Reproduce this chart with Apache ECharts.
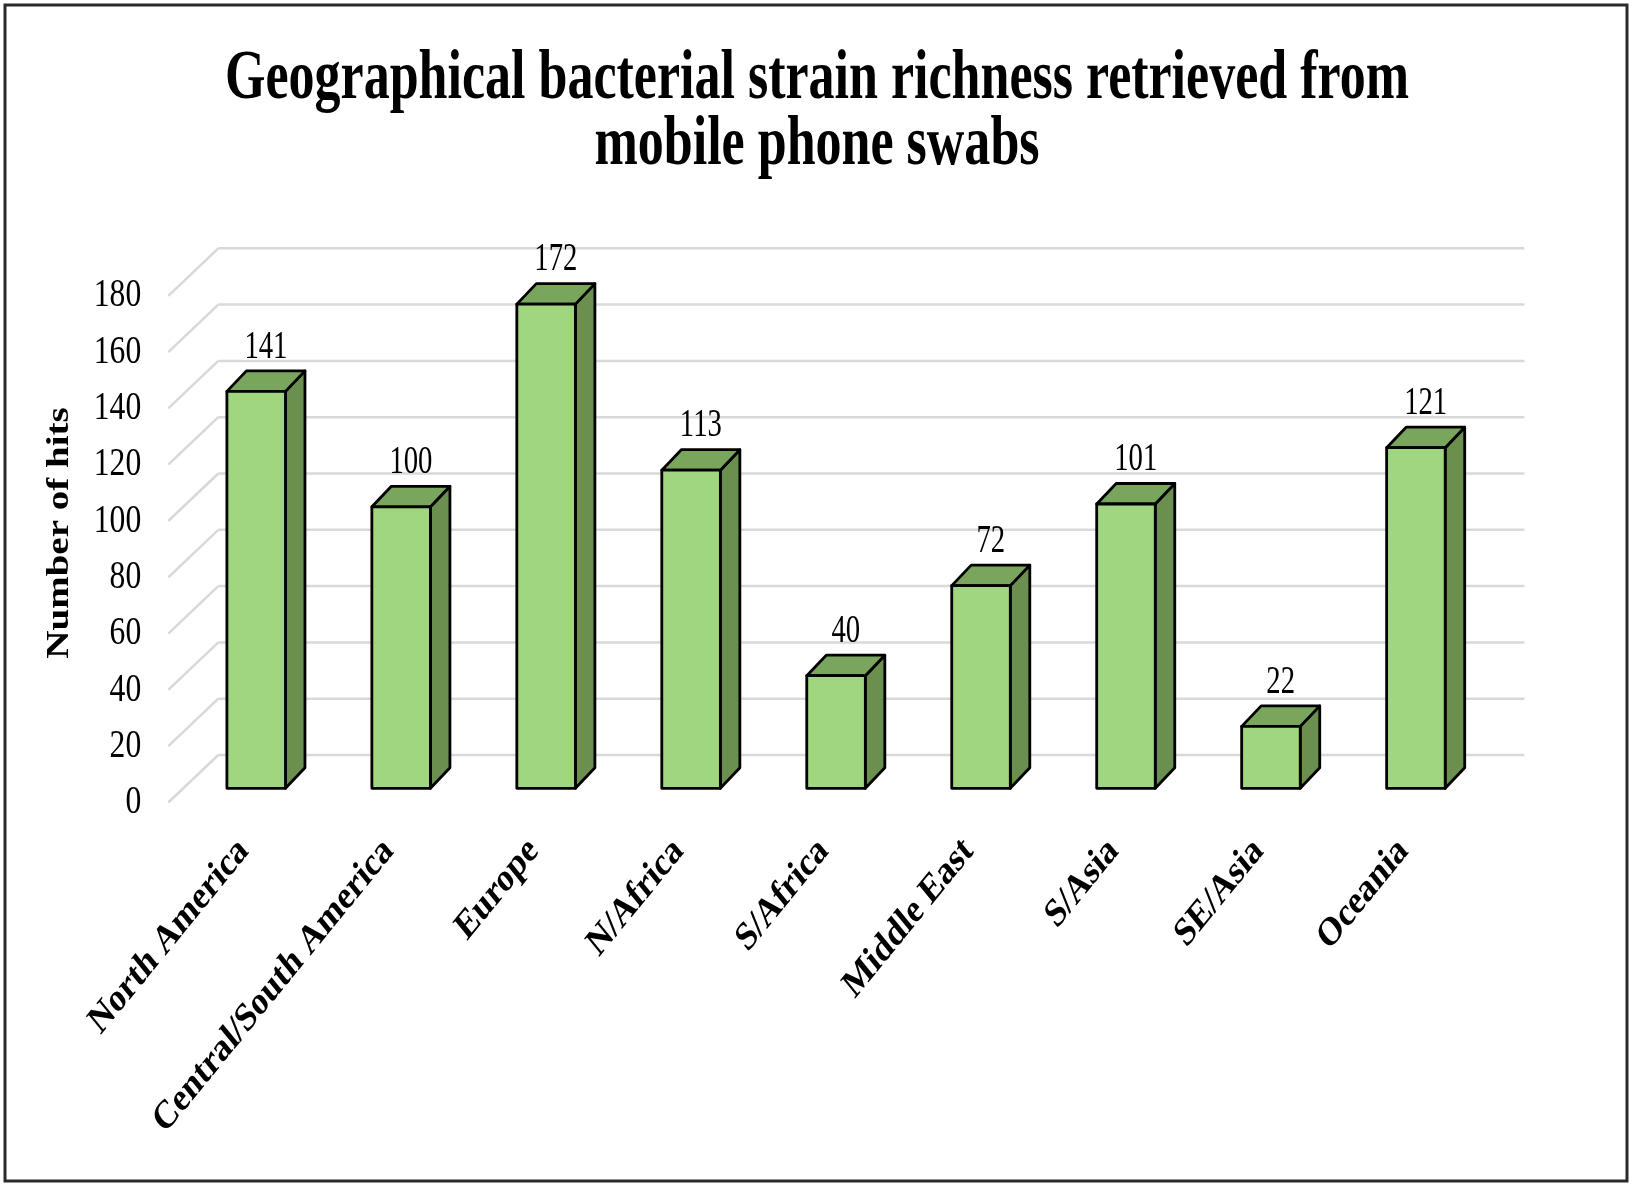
<!DOCTYPE html>
<html>
<head>
<meta charset="utf-8">
<script src="https://cdn.jsdelivr.net/npm/echarts@6/dist/echarts.min.js"></script>
<style>
  html, body { margin: 0; padding: 0; background: #fff; }
  #main { width: 1634px; height: 1190px; }
</style>
</head>
<body>
<div id="main"></div>
<script>
const categories = ['North America', 'Central/South America', 'Europe', 'N/Africa', 'S/Africa',
    'Middle East', 'S/Asia', 'SE/Asia', 'Oceania'];
const hits = [141, 100, 172, 113, 40, 72, 101, 22, 121];
const yTicks = [0, 20, 40, 60, 80, 100, 120, 140, 160, 180];
const titleLines = ['Geographical bacterial strain richness retrieved from', 'mobile phone swabs'];
const yName = 'Number of hits';

const serif = "'Times New Roman', 'Liberation Serif', serif";

// oblique "3D" offsets (the picture is an Excel 3D column chart)
const barDepth = [19.5, -20.5];
const wallBack = [34.6, -33.3];
const wallFront = [-15.4, 14.2];

const chart = echarts.init(document.getElementById('main'));

function renderWall(params, api) {
    const cs = params.coordSys;
    const v = api.value(1);
    const y = api.coord([0, v])[1];
    const bx = cs.x + wallBack[0], by = y + wallBack[1];
    const lineStyle = { stroke: '#d9d9d9', lineWidth: 2.5 };
    return {
        type: 'group',
        children: [
            { type: 'line', shape: { x1: bx, y1: by, x2: cs.x + cs.width + 36, y2: by }, style: lineStyle },
            { type: 'line', shape: { x1: cs.x + wallFront[0], y1: y + wallFront[1], x2: bx, y2: by }, style: lineStyle },
            {
                type: 'text', x: cs.x - 42.5, y: y + 14.5, scaleX: 0.8,
                style: { text: String(v), fontFamily: serif, fontSize: 39.5, fill: '#000', align: 'right', verticalAlign: 'middle' }
            }
        ]
    };
}

function renderBar(params, api) {
    const idx = api.value(0);
    const top = api.coord([idx, api.value(1)]);
    const base = api.coord([idx, 0]);
    const w = api.size([1, 0])[0] * 0.404;
    const x0 = top[0] - w / 2, x1 = top[0] + w / 2;
    const yt = top[1], yb = base[1];
    const dx = barDepth[0], dy = barDepth[1];
    const edge = { stroke: '#000', lineWidth: 2.8, lineJoin: 'round' };
    return {
        type: 'group',
        children: [
            { type: 'polygon', shape: { points: [[x1, yt], [x1 + dx, yt + dy], [x1 + dx, yb + dy], [x1, yb]] },
              style: Object.assign({ fill: '#6a8f4f' }, edge) },
            { type: 'polygon', shape: { points: [[x0, yt], [x0 + dx, yt + dy], [x1 + dx, yt + dy], [x1, yt]] },
              style: Object.assign({ fill: '#79a65c' }, edge) },
            { type: 'rect', shape: { x: x0, y: yt, width: w, height: yb - yt },
              style: Object.assign({ fill: '#9fd67f' }, edge) },
            {
                type: 'text', x: top[0] + dx / 2, y: yt + dy - 24, scaleX: 0.7,
                style: { text: String(api.value(1)), fontFamily: serif, fontSize: 41, fill: '#000', align: 'center', verticalAlign: 'middle' }
            },
            {
                type: 'group', x: top[0] - 12.5, y: 845, scaleX: 0.815,
                children: [{
                    type: 'text', rotation: Math.PI / 4,
                    style: { text: categories[idx], fontFamily: serif, fontWeight: 'bold', fontSize: 40, fill: '#000',
                        align: 'right', verticalAlign: 'middle' }
                }]
            }
        ]
    };
}

chart.setOption({
    backgroundColor: '#fff',
    animation: false,
    grid: { left: 183.7, top: 281.6, width: 1304.7, height: 506.7 },
    xAxis: { type: 'category', data: categories, show: false },
    yAxis: { type: 'value', min: 0, max: 180, interval: 20, show: false },
    graphic: [
        { type: 'rect', shape: { x: 5, y: 5, width: 1622, height: 1176 }, style: { fill: 'none', stroke: '#2b2b2b', lineWidth: 3 } },
        { type: 'text', x: 817, y: 80, scaleX: 0.743,
          style: { text: titleLines[0], fontFamily: serif, fontWeight: 'bold', fontSize: 70, fill: '#000', align: 'center', verticalAlign: 'middle' } },
        { type: 'text', x: 817, y: 146, scaleX: 0.743,
          style: { text: titleLines[1], fontFamily: serif, fontWeight: 'bold', fontSize: 70, fill: '#000', align: 'center', verticalAlign: 'middle' } },
        { type: 'text', x: 60, y: 533, rotation: Math.PI / 2, scaleY: 0.8,
          style: { text: yName, fontFamily: serif, fontWeight: 'bold', fontSize: 39, fill: '#000', align: 'center', verticalAlign: 'middle' } }
    ],
    series: [
        {
            type: 'custom', name: 'wall', renderItem: renderWall, silent: true, z: 1,
            encode: { x: 0, y: 1 },
            data: yTicks.map(v => [0, v])
        },
        {
            type: 'custom', name: 'Number of hits', renderItem: renderBar, z: 2,
            encode: { x: 0, y: 1 },
            data: hits.map((v, i) => [i, v])
        }
    ]
});
</script>
</body>
</html>
